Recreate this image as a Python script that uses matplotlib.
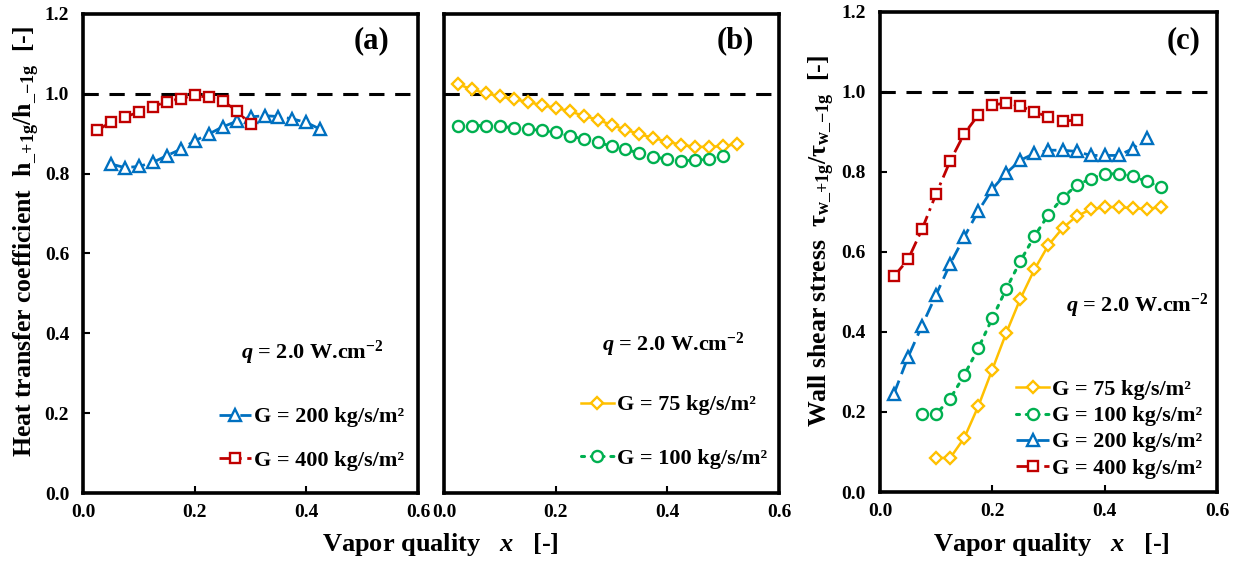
import numpy as np
import matplotlib.pyplot as plt

plt.rcParams['font.family'] = ['Liberation Serif', 'DejaVu Serif']
plt.rcParams['font.weight'] = 'bold'
plt.rcParams['mathtext.fontset'] = 'custom'
plt.rcParams['mathtext.rm'] = 'Liberation Serif:bold'
plt.rcParams['mathtext.it'] = 'Liberation Serif:italic:bold'
plt.rcParams['mathtext.bf'] = 'Liberation Serif:bold'
plt.rcParams['mathtext.default'] = 'rm'

# panel (a): heat transfer coefficient ratio
xa_200 = [0.05, 0.075, 0.1, 0.125, 0.15, 0.175, 0.2, 0.225, 0.25, 0.275,
          0.3, 0.325, 0.35, 0.375, 0.4, 0.425]
ya_200 = [0.824, 0.815, 0.818, 0.828, 0.845, 0.861, 0.882, 0.899, 0.917, 0.931,
          0.942, 0.945, 0.943, 0.937, 0.928, 0.911]
xa_400 = [0.025, 0.05, 0.075, 0.1, 0.125, 0.15, 0.175, 0.2, 0.225, 0.25, 0.275, 0.3]
ya_400 = [0.908, 0.929, 0.942, 0.954, 0.968, 0.980, 0.988, 0.996, 0.991, 0.982,
          0.958, 0.923]

# panel (b)
xb_75 = [0.025, 0.05, 0.075, 0.1, 0.125, 0.15, 0.175, 0.2, 0.225, 0.25, 0.275,
         0.3, 0.325, 0.35, 0.375, 0.4, 0.425, 0.45, 0.475, 0.5, 0.525]
yb_75 = [1.024, 1.011, 1.001, 0.994, 0.986, 0.980, 0.971, 0.965, 0.956, 0.945,
         0.935, 0.922, 0.910, 0.899, 0.889, 0.880, 0.872, 0.867, 0.867, 0.869, 0.874]
xb_100 = [0.025, 0.05, 0.075, 0.1, 0.125, 0.15, 0.175, 0.2, 0.225, 0.25, 0.275,
          0.3, 0.325, 0.35, 0.375, 0.4, 0.425, 0.45, 0.475, 0.5]
yb_100 = [0.920, 0.920, 0.920, 0.918, 0.915, 0.912, 0.908, 0.903, 0.894, 0.887,
          0.878, 0.869, 0.861, 0.851, 0.842, 0.836, 0.832, 0.834, 0.836, 0.844]

# panel (c): wall shear stress ratio
xc_75 = [0.1, 0.125, 0.15, 0.175, 0.2, 0.225, 0.25, 0.275, 0.3, 0.325, 0.35,
         0.375, 0.4, 0.425, 0.45, 0.475, 0.5]
yc_75 = [0.085, 0.085, 0.135, 0.214, 0.306, 0.398, 0.483, 0.556, 0.617, 0.659,
         0.689, 0.706, 0.712, 0.712, 0.709, 0.707, 0.712]
xc_100 = [0.075, 0.1, 0.125, 0.15, 0.175, 0.2, 0.225, 0.25, 0.275, 0.3, 0.325,
          0.35, 0.375, 0.4, 0.425, 0.45, 0.475, 0.5]
yc_100 = [0.195, 0.195, 0.233, 0.292, 0.359, 0.434, 0.508, 0.577, 0.639, 0.693,
          0.735, 0.766, 0.783, 0.795, 0.795, 0.789, 0.776, 0.762]
xc_200 = [0.025, 0.05, 0.075, 0.1, 0.125, 0.15, 0.175, 0.2, 0.225, 0.25, 0.275,
          0.3, 0.325, 0.35, 0.375, 0.4, 0.425, 0.45, 0.475]
yc_200 = [0.246, 0.337, 0.416, 0.493, 0.570, 0.637, 0.702, 0.757, 0.797, 0.829,
          0.846, 0.854, 0.854, 0.851, 0.841, 0.841, 0.841, 0.858, 0.885]
xc_400 = [0.025, 0.05, 0.075, 0.1, 0.125, 0.15, 0.175, 0.2, 0.225, 0.25, 0.275,
          0.3, 0.325, 0.35]
yc_400 = [0.539, 0.581, 0.657, 0.745, 0.827, 0.895, 0.942, 0.967, 0.972, 0.964,
          0.950, 0.937, 0.927, 0.929]

xticks = [0.0, 0.2, 0.4, 0.6]
yticks = [0.0, 0.2, 0.4, 0.6, 0.8, 1.0, 1.2]

# styles per mass flux
styles = {
    75: dict(color='#FFC000', marker='D', ms=6.5, ls='-', lw=1.8),
    100: dict(color='#00B050', marker='o', ms=8, ls=(0, (1, 2.2)), lw=2.2,
              dash_capstyle='round'),
    200: dict(color='#0070C0', marker='^', ms=8, ls=(0, (5, 2.5)), lw=2.0),
    400: dict(color='#C00000', marker='s', ms=7.5, ls=(0, (5, 2, 1, 2)), lw=2.0),
}


def plot_series(ax, x, y, G):
    st = styles[G]
    ax.plot(x, y, color=st['color'], ls=st['ls'], lw=st['lw'],
            marker=st['marker'], ms=st['ms'], mfc='white', mec=st['color'],
            mew=1.7, dash_capstyle=st.get('dash_capstyle', 'butt'),
            label='G = %d kg/s/m²' % G)


def style_axes(ax, ylabels=True):
    ax.set_xlim(0, 0.6)
    ax.set_ylim(0, 1.2)
    ax.set_xticks(xticks)
    ax.set_xticklabels(['%.1f' % t for t in xticks])
    ax.set_yticks(yticks)
    ax.set_yticklabels(['%.1f' % t for t in yticks])
    for s in ax.spines.values():
        s.set_linewidth(2.6)
    ax.tick_params(direction='in', length=5, width=1.5, labelsize=14)
    ax.tick_params(axis='y', pad=10)
    ax.tick_params(axis='x', pad=8)
    if not ylabels:
        ax.tick_params(axis='y', left=False, labelleft=False)
    ax.axhline(1.0, color='black', ls=(0, (5, 3.5)), lw=2.2, zorder=1)


def add_legend(ax, anchor, spacing):
    ax.legend(loc='upper left', bbox_to_anchor=anchor, frameon=False,
              fontsize=16, borderpad=0, borderaxespad=0, labelspacing=spacing,
              handlelength=1.45, handletextpad=0.15)


qtext = r'$\mathit{q}$ = 2.0 W.cm$^{{-}2}$'

fig = plt.figure(figsize=(12.34, 5.65), dpi=100)
ax_a = fig.add_axes([0.0673, 0.1274, 0.2715, 0.848])
ax_b = fig.add_axes([0.3598, 0.1274, 0.2715, 0.848])
ax_c = fig.add_axes([0.7131, 0.1292, 0.2731, 0.850])

# (a)
style_axes(ax_a)
plot_series(ax_a, xa_200, ya_200, 200)
plot_series(ax_a, xa_400, ya_400, 400)
ax_a.text(0.41, 0.35, qtext, fontsize=16, ha='center', va='center')
ax_a.text(0.86, 0.945, '(a)', transform=ax_a.transAxes, fontsize=22, ha='center', va='center')
add_legend(ax_a, (0.405, 0.18), 1.05)

# (b)
style_axes(ax_b, ylabels=False)
plot_series(ax_b, xb_75, yb_75, 75)
plot_series(ax_b, xb_100, yb_100, 100)
ax_b.text(0.41, 0.37, qtext, fontsize=16, ha='center', va='center')
ax_b.text(0.87, 0.945, '(b)', transform=ax_b.transAxes, fontsize=22, ha='center', va='center')
add_legend(ax_b, (0.41, 0.205), 1.5)

# (c)
style_axes(ax_c)
plot_series(ax_c, xc_75, yc_75, 75)
plot_series(ax_c, xc_100, yc_100, 100)
plot_series(ax_c, xc_200, yc_200, 200)
plot_series(ax_c, xc_400, yc_400, 400)
ax_c.text(0.459, 0.464, qtext, fontsize=16, ha='center', va='center')
ax_c.text(0.90, 0.94, '(c)', transform=ax_c.transAxes, fontsize=22, ha='center', va='center')
add_legend(ax_c, (0.405, 0.234), 0.25)

# axis titles
fig.text(0.357, 0.036, r'Vapor quality   $\mathit{x}$   [-]', fontsize=19, ha='center', va='center')
fig.text(0.852, 0.036, r'Vapor quality   $\mathit{x}$   [-]', fontsize=19, ha='center', va='center')
fig.text(0.022, 0.572, r'Heat transfer coefficient  h$_{\_{+}1g}$/h$_{\_{-}1g}$  [-]',
         fontsize=18.5, rotation=90, ha='center', va='center')
fig.text(0.666, 0.573, r'Wall shear stress  τ$_{w\_{+}1g}$/τ$_{w\_{-}1g}$  [-]',
         fontsize=18.5, rotation=90, ha='center', va='center')

fig.savefig('out.png', dpi=100)
